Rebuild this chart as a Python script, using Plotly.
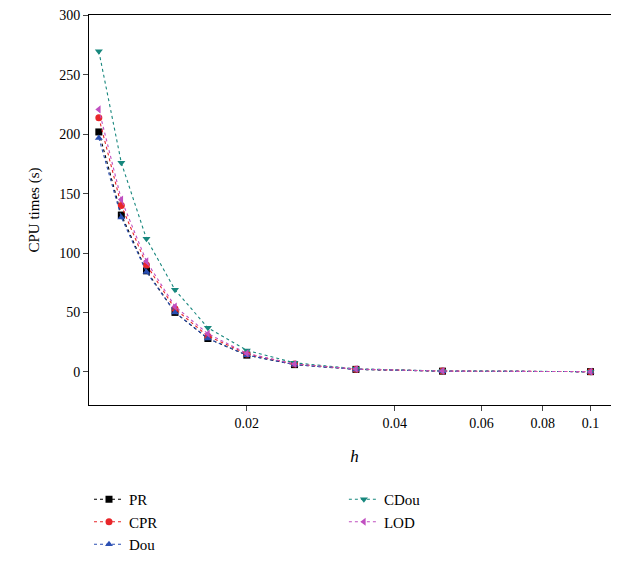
import plotly.graph_objects as go

h = [1/100, 1/90, 1/80, 1/70, 1/60, 1/50, 1/40, 1/30, 1/20, 1/10]
pr = [202, 132, 85, 50, 28, 14, 6, 2, 0.5, 0.1]
cpr = [214, 140, 90, 53, 30, 15, 6.5, 2.2, 0.6, 0.1]
dou = [197, 130, 84, 50, 28, 14, 6, 2, 0.5, 0.1]
cdou = [270, 176, 112, 69, 37, 18, 7.5, 2.5, 0.7, 0.1]
lod = [221, 145, 93, 55, 32, 15.5, 6.5, 2.3, 0.6, 0.1]

series = [
    ("PR", pr, "black", "square", "legend"),
    ("CPR", cpr, "#e8262a", "circle", "legend"),
    ("Dou", dou, "#2b4fb3", "triangle-up", "legend"),
    ("CDou", cdou, "#17877d", "triangle-down", "legend2"),
    ("LOD", lod, "#c04fc0", "triangle-left", "legend2"),
]

fig = go.Figure()
for name, ys, col, sym, lg in series:
    fig.add_trace(go.Scatter(x=h, y=ys, name=name, mode="lines+markers", legend=lg,
                             line=dict(color=col, dash="dot", width=1.1),
                             marker=dict(color=col, symbol=sym, size=7)))

axis = dict(showline=True, linecolor="black", mirror=True, ticks="outside",
            showgrid=False, zeroline=False, tickfont=dict(size=14, color="black"))
leg = dict(yanchor="top", y=-0.2, xanchor="left", font=dict(size=15),
           tracegroupgap=0)
fig.update_layout(
    width=619, height=563, plot_bgcolor="white", paper_bgcolor="white",
    font=dict(family="Liberation Serif", size=14, color="black"),
    margin=dict(l=81, r=7, t=7, b=166, autoexpand=False),
    xaxis=dict(axis, type="log", range=[-2.02, -0.94],
               tickvals=[0.02, 0.04, 0.06, 0.08, 0.1],
               ticktext=["0.02", "0.04", "0.06", "0.08", "0.1"],
               title=dict(text="<i>h</i>", font=dict(size=17), standoff=20)),
    yaxis=dict(axis, range=[-28, 300.5], dtick=50,
               title=dict(text="CPU times (s)", font=dict(size=15))),
    legend=dict(leg, x=0.0),
    legend2=dict(leg, x=0.48),
)
fig.write_html("out.html")
